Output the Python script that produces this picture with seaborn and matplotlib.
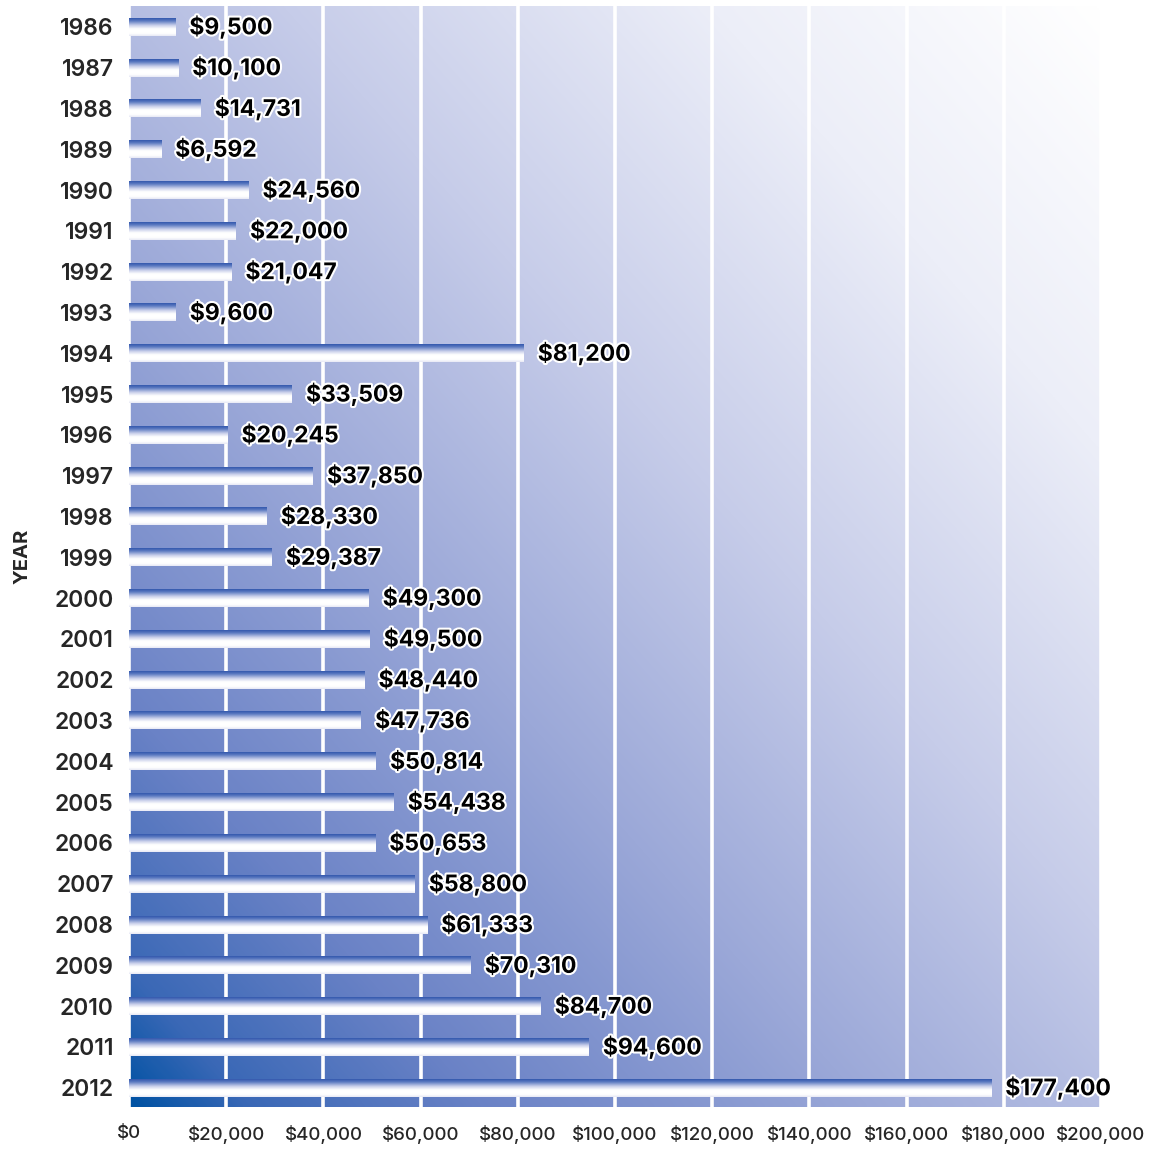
import numpy as np
import pandas as pd
import matplotlib
matplotlib.use('Agg')
import matplotlib.pyplot as plt
import matplotlib.patheffects as pe
from matplotlib.colors import LinearSegmentedColormap
from matplotlib.ticker import FuncFormatter
import seaborn as sns

# Values per year
years = [str(y) for y in range(1986, 2013)]
amounts = [9500, 10100, 14731, 6592, 24560, 22000, 21047, 9600, 81200, 33509,
           20245, 37850, 28330, 29387, 49300, 49500, 48440, 47736, 50814, 54438,
           50653, 58800, 61333, 70310, 84700, 94600, 177400]
x_ticks = list(range(0, 200001, 20000))

df = pd.DataFrame({'year': years, 'amount': amounts})

sns.set_theme(style='white')
plt.rcParams['font.family'] = ['Inter', 'DejaVu Sans']

fig = plt.figure(figsize=(11.63, 11.49), dpi=100)
ax = fig.add_axes([0.111, 0.0366, 0.8357, 0.9582])

sns.barplot(data=df, x='amount', y='year', orient='h', ax=ax, width=0.44,
            color='white', zorder=3)

# diagonal background gradient (dark blue bottom-left -> white top-right)
bg_cmap = LinearSegmentedColormap.from_list('bg', [
    (0.0, '#0052a3'), (0.06, '#3a68b6'), (0.18, '#6a82c6'),
    (0.38, '#9ba8d8'), (0.58, '#c6cce9'), (0.8, '#eceef8'), (1.0, '#ffffff')])
u = np.linspace(0, 1, 400)
v = np.linspace(1, 0, 400)
U, V = np.meshgrid(u, v)
ax.imshow((U + V) / 2, cmap=bg_cmap, extent=(0, 1, 0, 1), transform=ax.transAxes,
          aspect='auto', zorder=0, interpolation='bicubic')

# bar gradient: blue top edge fading to white
bar_cmap = LinearSegmentedColormap.from_list('bar', [
    (0.0, '#3358ad'), (0.15, '#5a78c0'), (0.4, '#c9cfea'),
    (0.6, '#ffffff'), (0.85, '#ffffff'), (1.0, '#e8e9f5')])
grad = np.linspace(0, 1, 100).reshape(-1, 1)
for patch, val in zip(ax.patches, amounts):
    x0, y0 = patch.get_x(), patch.get_y()
    w, h = patch.get_width(), patch.get_height()
    patch.set_visible(False)
    ax.imshow(grad, cmap=bar_cmap, extent=(x0, x0 + w, y0 + h, y0),
              aspect='auto', zorder=3, interpolation='bilinear')
    ax.text(val + 2900, y0 + h / 2, f'${val:,}', va='center', ha='left',
            fontsize=16.5, fontweight='bold', color='black', zorder=5, clip_on=False,
            path_effects=[pe.withStroke(linewidth=3, foreground='white')])

ax.set_xlim(0, 200000)
ax.set_ylim(26.47, -0.51)
ax.set_xticks(x_ticks)
ax.xaxis.set_major_formatter(FuncFormatter(lambda x, p: f'${int(x):,}'))
ax.grid(axis='x', color='white', linewidth=2.6, zorder=1)
ax.grid(axis='y', visible=False)
for s in ax.spines.values():
    s.set_visible(False)

ax.tick_params(axis='y', length=0, pad=11, labelsize=16.5)
ax.tick_params(axis='x', length=0, pad=13, labelsize=13.5)
for lbl in ax.get_yticklabels():
    lbl.set_fontweight('semibold')
for lbl in ax.get_xticklabels():
    lbl.set_fontweight('medium')

ax.set_xlabel('')
ax.set_ylabel('YEAR', fontsize=14.5, fontweight='bold', labelpad=16)

fig.savefig('out.png', dpi=100)
